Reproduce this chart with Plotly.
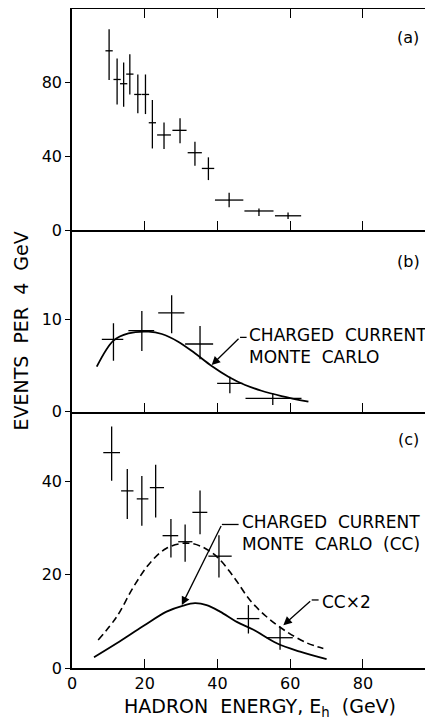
import plotly.graph_objects as go

# ---------------- data ----------------
# panel (a)
a_e = [10.2, 12.4, 14.2, 15.9, 18.1, 20.2, 22.1, 25.3, 29.7, 33.8, 37.5, 43.2, 51.4, 59.4]
a_n = [96.9, 81.4, 79.1, 84.3, 73.3, 73.3, 58.0, 51.4, 53.9, 41.8, 33.3, 16.2, 10.3, 7.7]
a_hi = [108.6, 92.8, 90.6, 95.1, 84.1, 84.1, 70.3, 58.2, 60.4, 47.7, 39.3, 20.2, 11.7, 9.5]
a_lo = [81.1, 67.9, 66.7, 73.3, 63.1, 62.7, 44.1, 43.8, 46.9, 34.8, 27.0, 12.3, 7.6, 6.0]
a_elo = [9.2, 11.4, 13.2, 14.9, 17.1, 19.2, 21.1, 23.4, 27.6, 31.8, 35.7, 39.3, 47.4, 55.8]
a_ehi = [11.2, 13.4, 15.2, 16.9, 19.1, 21.2, 23.1, 27.2, 31.5, 35.7, 39.1, 47.1, 55.4, 63.0]

# panel (b)
b_e = [11.4, 19.2, 27.4, 35.2, 43.4, 55.2]
b_n = [7.83, 8.77, 10.7, 7.33, 3.07, 1.45]
b_hi = [9.57, 10.9, 12.6, 9.27, 3.79, 1.99]
b_lo = [5.52, 6.57, 8.48, 5.67, 1.99, 0.72]
b_elo = [8.2, 15.5, 23.7, 31.1, 39.9, 47.7]
b_ehi = [14.1, 22.6, 30.9, 38.8, 46.9, 63.1]
bmc_e = [6.8, 11.4, 15.5, 21.0, 24.7, 29.2, 33.8, 38.4, 43.0, 47.6, 52.1, 57.6, 65.0]
bmc_n = [4.87, 7.7, 8.48, 8.66, 8.41, 7.58, 6.32, 4.95, 3.79, 2.89, 2.27, 1.70, 1.08]

# panel (c)
c_e = [10.9, 15.2, 19.2, 23.0, 27.2, 31.1, 35.2, 40.4, 48.5, 57.2]
c_n = [46.2, 38.0, 36.3, 38.7, 28.4, 27.1, 33.4, 24.0, 10.6, 6.5]
c_hi = [51.8, 42.7, 41.2, 43.6, 32.0, 30.8, 38.1, 28.5, 13.5, 8.9]
c_lo = [40.2, 32.0, 30.5, 32.3, 23.7, 22.8, 28.7, 19.4, 7.4, 3.9]
c_elo = [8.6, 13.5, 17.8, 21.4, 24.9, 29.2, 33.1, 37.5, 45.3, 53.5]
c_ehi = [13.2, 16.9, 21.0, 25.3, 29.2, 33.1, 37.2, 43.9, 51.5, 60.7]
cmc_e = [6.05, 12.3, 19.6, 26.0, 30.6, 33.8, 37.0, 40.7, 45.3, 49.9, 56.3, 62.7, 70.0]
cmc_n = [2.3, 5.3, 9.0, 12.1, 13.4, 13.9, 13.5, 12.1, 9.9, 8.2, 5.3, 3.5, 1.9]
cc2_e = [7.2, 12.3, 16.9, 21.4, 26.0, 31.1, 35.2, 39.8, 44.4, 48.9, 53.5, 59.0, 64.5, 69.1]
cc2_n = [6.0, 11.0, 17.4, 22.5, 25.7, 26.8, 26.2, 23.9, 19.6, 14.6, 11.0, 7.8, 5.4, 4.2]

x_ticks = [0, 20, 40, 60, 80]
a_ticks = [0, 40, 80]
b_ticks = [0, 10]
c_ticks = [0, 20, 40]

FONT = "DejaVu Sans"
INK = "black"

fig = go.Figure()


def data_trace(e, n, hi, lo, elo, ehi, xa, ya):
    return go.Scatter(
        x=e, y=n, mode="markers", xaxis=xa, yaxis=ya,
        marker=dict(size=1, color=INK),
        error_y=dict(type="data", symmetric=False,
                     array=[h - v for h, v in zip(hi, n)],
                     arrayminus=[v - l for v, l in zip(n, lo)],
                     color=INK, thickness=1.3, width=0),
        error_x=dict(type="data", symmetric=False,
                     array=[h - v for h, v in zip(ehi, e)],
                     arrayminus=[v - l for v, l in zip(e, elo)],
                     color=INK, thickness=1.3, width=0),
        showlegend=False, hoverinfo="skip")


fig.add_trace(data_trace(a_e, a_n, a_hi, a_lo, a_elo, a_ehi, "x3", "y3"))
fig.add_trace(data_trace(b_e, b_n, b_hi, b_lo, b_elo, b_ehi, "x2", "y2"))
fig.add_trace(data_trace(c_e, c_n, c_hi, c_lo, c_elo, c_ehi, "x", "y"))

fig.add_trace(go.Scatter(x=bmc_e, y=bmc_n, mode="lines", xaxis="x2", yaxis="y2",
                         line=dict(color=INK, width=1.8, shape="spline"),
                         showlegend=False, hoverinfo="skip"))
fig.add_trace(go.Scatter(x=cmc_e, y=cmc_n, mode="lines", xaxis="x", yaxis="y",
                         line=dict(color=INK, width=1.8, shape="spline"),
                         showlegend=False, hoverinfo="skip"))
fig.add_trace(go.Scatter(x=cc2_e, y=cc2_n, mode="lines", xaxis="x", yaxis="y",
                         line=dict(color=INK, width=1.6, shape="spline", dash="7px,4px"),
                         showlegend=False, hoverinfo="skip"))

# dummy traces so the right-hand tick axes are drawn
for xa, ya in (("x", "y4"), ("x2", "y5"), ("x3", "y6")):
    fig.add_trace(go.Scatter(x=[None], y=[None], xaxis=xa, yaxis=ya,
                             showlegend=False, hoverinfo="skip"))

XR = [0, 99.25]
dom_c = [0, 0.3889]
dom_b = [0.3889, 0.6646]
dom_a = [0.6646, 1.0]
RA = [0, 119.5]
RB = [0, 19.66]
RC = [0, 55]
tickfont = dict(family=FONT, size=16, color=INK)


def xaxis(anchor, labels, mirror):
    return dict(range=XR, anchor=anchor, tickvals=x_ticks, showticklabels=labels,
                ticks="inside", ticklen=9, tickwidth=1.3, tickcolor=INK,
                showline=True, linecolor=INK, linewidth=1.6, mirror=mirror,
                showgrid=False, zeroline=False, tickfont=tickfont,
                ticklabelstandoff=0, fixedrange=True)


def yaxis(anchor, dom, rng, tv):
    return dict(range=rng, domain=dom, anchor=anchor, tickvals=tv,
                ticks="outside", ticklen=5, tickwidth=1.3, tickcolor=INK,
                showline=True, linecolor=INK, linewidth=1.6,
                showgrid=False, zeroline=False, tickfont=tickfont, fixedrange=True)


def yright(anchor, over, rng, tv):
    return dict(range=rng, anchor=anchor, overlaying=over, side="right",
                tickvals=tv, showticklabels=False, ticks="inside", ticklen=6,
                tickwidth=1.3, tickcolor=INK, showline=False, showgrid=False,
                zeroline=False, fixedrange=True)


# the page adds an 8 px body margin, so the figure is sized 8 px smaller
fig.update_layout(
    width=425, height=713,
    margin=dict(l=64, r=0, t=1, b=53),
    paper_bgcolor="white", plot_bgcolor="white",
    font=dict(family=FONT, color=INK),
    showlegend=False,
    xaxis=xaxis("y", True, False),
    xaxis2=xaxis("y2", False, False),
    xaxis3=xaxis("y3", False, "ticks"),
    yaxis=yaxis("x", dom_c, RC, c_ticks),
    yaxis2=yaxis("x2", dom_b, RB, b_ticks),
    yaxis3=yaxis("x3", dom_a, RA, a_ticks),
    yaxis4=yright("x", "y", RC, c_ticks[1:]),
    yaxis5=yright("x2", "y2", RB, b_ticks[1:]),
    yaxis6=yright("x3", "y3", RA, a_ticks[1:]),
)

lbl = dict(family=FONT, size=17, color=INK)
ann = []
# panel letters
ann.append(dict(x=92.4, y=104, xref="x3", yref="y3", text="(a)", showarrow=False,
                font=dict(family=FONT, size=16, color=INK)))
ann.append(dict(x=92.4, y=16.3, xref="x2", yref="y2", text="(b)", showarrow=False,
                font=dict(family=FONT, size=16, color=INK)))
ann.append(dict(x=92.4, y=49.0, xref="x", yref="y", text="(c)", showarrow=False,
                font=dict(family=FONT, size=16, color=INK)))

# panel (b) label
ann.append(dict(x=48.2, y=7.15, xref="x2", yref="y2", xanchor="left", yanchor="middle",
                align="left", text="CHARGED  CURRENT<br>MONTE  CARLO", showarrow=False,
                font=lbl))
ann.append(dict(x=38.4, y=5.05, xref="x2", yref="y2", ax=46.2, ay=8.05,
                axref="x2", ayref="y2", text="", showarrow=True, arrowhead=2,
                arrowsize=1.3, arrowwidth=1.3, arrowcolor=INK, standoff=0))
# panel (c) labels
ann.append(dict(x=46.3, y=29.0, xref="x", yref="y", xanchor="left", yanchor="middle",
                align="left", text="CHARGED  CURRENT<br>MONTE  CARLO  (CC)", showarrow=False,
                font=lbl))
ann.append(dict(x=30.2, y=13.5, xref="x", yref="y", ax=41.2, ay=30.8,
                axref="x", ayref="y", text="", showarrow=True, arrowhead=2,
                arrowsize=1.3, arrowwidth=1.3, arrowcolor=INK, standoff=0))
ann.append(dict(x=68.2, y=14.1, xref="x", yref="y", xanchor="left", yanchor="middle",
                text="CC×2", showarrow=False, font=lbl))
ann.append(dict(x=58.1, y=9.2, xref="x", yref="y", ax=65.9, ay=14.6,
                axref="x", ayref="y", text="", showarrow=True, arrowhead=2,
                arrowsize=1.3, arrowwidth=1.3, arrowcolor=INK, standoff=0))

# axis titles
ann.append(dict(x=-0.1413, y=0.512, xref="paper", yref="paper", textangle=-90,
                xanchor="center", yanchor="middle",
                text="EVENTS  PER  4  GeV", showarrow=False,
                font=dict(family=FONT, size=19, color=INK)))
ann.append(dict(x=0.5208, y=-0.0599, xref="paper", yref="paper",
                xanchor="center", yanchor="middle",
                text="HADRON  ENERGY, E<sub>h</sub>  (GeV)", showarrow=False,
                font=dict(family=FONT, size=19, color=INK)))
fig.update_layout(annotations=ann)

# short horizontal leader segments from label to arrow bends
fig.update_layout(shapes=[
    dict(type="line", xref="x2", yref="y2", x0=46.2, x1=48.0, y0=8.05, y1=8.05,
         line=dict(color=INK, width=1.3)),
    dict(type="line", xref="x", yref="y", x0=41.2, x1=45.8, y0=30.8, y1=30.8,
         line=dict(color=INK, width=1.3)),
    dict(type="line", xref="x", yref="y", x0=65.9, x1=67.8, y0=14.6, y1=14.6,
         line=dict(color=INK, width=1.3)),
])

fig.write_html("out.html")
